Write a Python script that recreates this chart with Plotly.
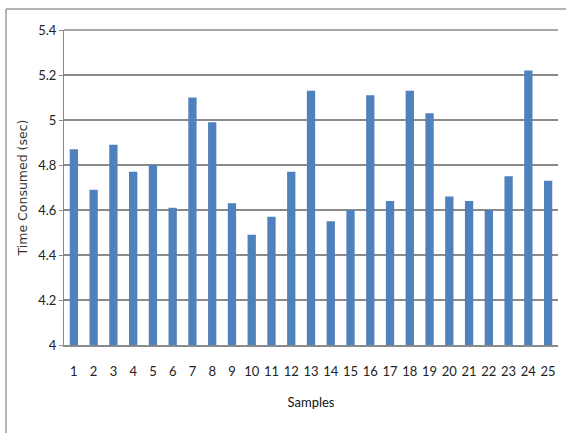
import plotly.graph_objects as go

# Time consumed per sample run (seconds)
samples = [str(i) for i in range(1, 26)]
time_sec = [4.87, 4.69, 4.89, 4.77, 4.80, 4.61, 5.10, 4.99, 4.63, 4.49,
            4.57, 4.77, 5.13, 4.55, 4.60, 5.11, 4.64, 5.13, 5.03, 4.66,
            4.64, 4.60, 4.75, 5.22, 4.73]
y_ticks = [4.0, 4.2, 4.4, 4.6, 4.8, 5.0, 5.2, 5.4]
y_tick_text = ["4", "4.2", "4.4", "4.6", "4.8", "5", "5.2", "5.4"]

W, H = 566, 433
ml, mr, mt, mb = 64, 8, 30, 88
pw, ph = W - ml - mr, H - mt - mb

grid_col = "#8a8a8a"
tick_font = dict(family="Lato, Open Sans, sans-serif", size=13, color="#222222")

fig = go.Figure(go.Bar(
    x=samples, y=time_sec,
    marker=dict(color="#4F81BD", line=dict(width=0)),
    width=0.42,
))

fig.update_layout(
    width=W, height=H,
    margin=dict(l=ml, r=mr, t=mt, b=mb),
    paper_bgcolor="white", plot_bgcolor="white",
    showlegend=False,
    xaxis=dict(
        type="category",
        showgrid=False,
        showline=True, linecolor=grid_col, linewidth=1.5,
        ticks="outside", ticklen=14, tickcolor="rgba(0,0,0,0)",
        tickfont=tick_font,
        title=dict(text="Samples",
                   font=dict(family="Lato, sans-serif", size=13, color="#111111"),
                   standoff=20),
    ),
    yaxis=dict(
        range=[y_ticks[0], y_ticks[-1]],
        tickvals=y_ticks, ticktext=y_tick_text,
        showgrid=True, gridcolor=grid_col, gridwidth=1.5,
        showline=True, linecolor=grid_col, linewidth=1,
        ticks="outside", ticklen=4, tickcolor=grid_col,
        tickfont=tick_font,
        zeroline=False,
        title=dict(text="Time Consumed (sec)",
                   font=dict(family="DejaVu Sans, sans-serif", size=12.5,
                             color="#333333"),
                   standoff=7),
    ),
)

# Top gridline along the upper edge of the plot area (paper shapes are not clipped)
fig.add_shape(type="line", xref="paper", yref="paper",
              x0=0, x1=1, y0=1, y1=1,
              line=dict(color=grid_col, width=1.5))

# Outer chart frame (open on the right and bottom)
x0 = (6 - ml) / pw
y0 = (H - mb - 9) / ph
fig.add_shape(type="line", xref="paper", yref="paper",
              x0=x0, x1=1.2, y0=y0, y1=y0,
              line=dict(color="#9a9a9a", width=1.5))
fig.add_shape(type="line", xref="paper", yref="paper",
              x0=x0, x1=x0, y0=y0, y1=-0.5,
              line=dict(color="#9a9a9a", width=1.5))

fig.write_html("out.html")
